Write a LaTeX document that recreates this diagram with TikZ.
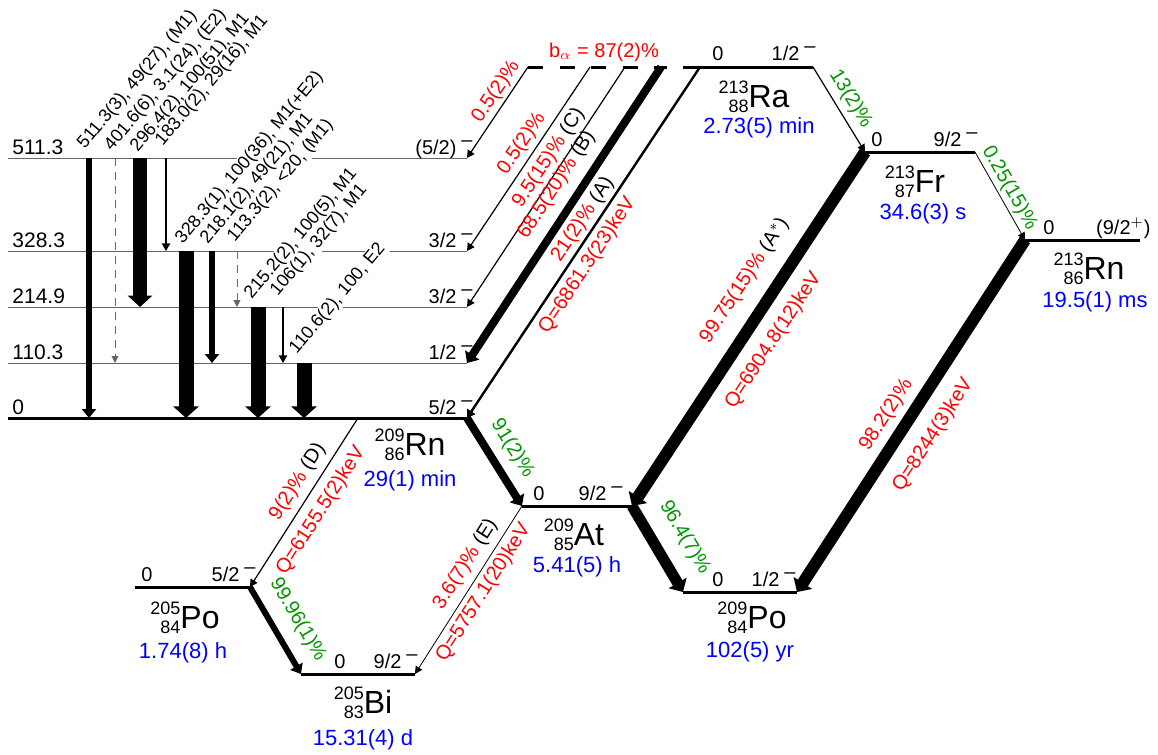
\documentclass[tikz,border=0pt]{standalone}
\usepackage{fontspec}
\setmainfont{Liberation Sans}
\usetikzlibrary{arrows.meta}
\definecolor{decgreen}{RGB}{0,150,0}
\newcommand{\nuc}[3]{\raisebox{-2.5pt}{\fontsize{9}{9.5}\selectfont\begin{tabular}[b]{@{}r@{}}#1\\#2\end{tabular}}\fontsize{16}{16}\selectfont #3}
\newcommand{\pmin}{\hspace{2.5pt}\raisebox{4pt}{–}}

\tikzset{
  lev/.style={line width=1.5pt},
  sublev/.style={line width=0.5pt, black!60},
  tr/.style={line width=#1, -{Triangle[width=3.25pt 1.25, length=3.6pt 0.3]}},
  gamd/.style={line width=0.5pt, black!60, dash pattern=on 4pt off 3pt, -{Triangle[width=3.5pt, length=3.5pt]}},
  glab/.style={rotate=50, anchor=south west, fill=white, inner sep=0.5pt, font=\fontsize{9}{11}\selectfont},
  lab/.style={sloped, inner sep=0pt, font=\fontsize{10}{12}\selectfont},
  elab/.style={anchor=base west, inner sep=0pt, font=\fontsize{10.5}{12}\selectfont},
  spin/.style={anchor=base east, inner sep=0pt, font=\fontsize{10}{12}\selectfont},
  zero/.style={anchor=base, inner sep=0pt, font=\fontsize{10}{12}\selectfont},
  nucl/.style={anchor=base, inner sep=0pt},
  thalf/.style={anchor=base, inner sep=0pt, blue, font=\fontsize{11}{13}\selectfont},
}

\begin{document}
\begin{tikzpicture}[x=0.5pt, y=-0.5pt]
\useasboundingbox (0,0) rectangle (1158,755);

% levels of 209Rn
\coordinate (e511) at (8,158); \coordinate (e511r) at (467,158);
\coordinate (e328) at (8,251); \coordinate (e328r) at (467,251);
\coordinate (e215) at (8,307); \coordinate (e215r) at (467,307);
\coordinate (e110) at (8,363); \coordinate (e110r) at (467,363);
\coordinate (e0) at (8,418);   \coordinate (e0r) at (467,418);
\coordinate (d1) at (358,418);
% ground states
\coordinate (a1) at (528,67); \coordinate (a2) at (590,67);
\coordinate (a3) at (625,67); \coordinate (a4) at (661,67);
\coordinate (Ra-de) at (667,67);
\coordinate (Ra-l) at (683,67); \coordinate (a5) at (700,67); \coordinate (Ra-r) at (813,67);
\coordinate (Fr-l) at (865,152); \coordinate (Fr-r) at (975,152);
\coordinate (Rn3-l) at (1025,240); \coordinate (Rn3-r) at (1140,240);
\coordinate (At-l) at (522,506); \coordinate (At-r) at (632,506);
\coordinate (Po9-l) at (683,592); \coordinate (Po9-r) at (797,592);
\coordinate (Po5-l) at (135,587); \coordinate (Po5-r) at (250,587);
\coordinate (Bi-l) at (301,674); \coordinate (Bi-r) at (415,674);

\foreach \lv in {e511,e328,e215,e110}
  \draw[sublev] (\lv) -- (\lv r);
\draw[lev] (e0) -- (e0r);
\draw[lev, dash pattern=on 7.5pt off 8.3pt] (a1) -- (Ra-de);
\draw[lev] (Ra-l) -- (Ra-r);
\draw[lev] (Fr-l) -- (Fr-r);
\draw[lev] (Rn3-l) -- (Rn3-r);
\draw[lev] (At-l) -- (At-r);
\draw[lev] (Po9-l) -- (Po9-r);
\draw[lev] (Po5-l) -- (Po5-r);
\draw[lev] (Bi-l) -- (Bi-r);

% gamma rays
\node[glab] (g1) at (88,154) {511.3(3), 49(27), (M1)};
\node[glab] (g2) at (115,156) {401.6(6), 3.1(24), (E2)};
\node[glab] (g3) at (141,157) {296.4(2), 100(51), M1};
\node[glab] (g4) at (166,151) {183.0(2), 29(16), M1};
\node[glab] (g5) at (186,249) {328.3(1), 100(36), M1(+E2)};
\node[glab] (g6) at (211,249) {218.1(2), 49(21), M1};
\node[glab] (g7) at (238,247) {113.3(2), <20, (M1)};
\node[glab] (g8) at (255,304) {215.2(2), 100(5), M1};
\node[glab] (g9) at (281,301) {106(1), 32(7), M1};
\node[glab] (g10) at (300,359) {110.6(2), 100, E2};

\foreach \x/\from/\to/\w in {89/e511/e0/3pt, 140/e511/e215/7pt, 166/e511/e328/0.7pt,
    186/e328/e0/7.5pt, 212/e328/e110/3pt, 258/e215/e0/7.5pt,
    283/e215/e110/0.7pt, 304/e110/e0/7.5pt}
  \draw[tr=\w] (\from -| \x,0) -- (\to -| \x,0);
\draw[gamd] (e511 -| 115,0) -- (e110 -| 115,0);
\draw[gamd] (e328 -| 237,0) -- (e215 -| 237,0);

% alpha and EC decays
\draw[tr=0.6pt] (a1) -- (e511r) node[lab, pos=0.35, above=1.4pt, red] (p1) {0.5(2)\%};
\draw[tr=0.6pt] (a2) -- (e328r) node[lab, pos=0.46, above=2.1pt, red] (p2) {0.5(2)\%};
\draw[tr=0.6pt] (a3) -- (e215r) node[lab, pos=0.41, above=1.9pt] (p3) {\textcolor{red}{9.5(15)\%} (C)};
\draw[tr=4pt] (a4) -- (e110r) node[lab, pos=0.44, above=4.7pt] (p4) {\textcolor{red}{68.5(20)\%} (B)};
\draw[tr=1.2pt] (a5) -- (e0r)
  node[lab, pos=0.455, above=1.5pt] (p5) {\textcolor{red}{21(2)\%} (A)}
  node[lab, pos=0.54, below=2.7pt, red] (q5) {Q=6861.3(23)keV};
\draw[tr=0.6pt] (Ra-r) -- (Fr-l) node[lab, pos=0.47, above=2.7pt, decgreen] (b1) {13(2)\%};
\draw[tr=0.4pt] (Fr-r) -- (Rn3-l) node[lab, pos=0.475, above=1.2pt, decgreen] (b2) {0.25(15)\%};
\draw[tr=6pt] (Fr-l) -- (At-r)
  node[lab, pos=0.41, above=7.2pt] (p6) {\textcolor{red}{99.75(15)\%} (A$^*$)}
  node[lab, pos=0.49, below=5.9pt, red] (q6) {Q=6904.8(12)keV};
\draw[tr=6pt] (Rn3-l) -- (Po9-r)
  node[lab, pos=0.53, above=3pt, red] (p7) {98.2(2)\%}
  node[lab, pos=0.51, below=6.8pt, red] (q7) {Q=8244(3)keV};
\draw[tr=4pt] (e0r) -- (At-l) node[lab, pos=0.48, above=4.5pt, decgreen] (b3) {91(2)\%};
\draw[tr=5.5pt] (At-r) -- (Po9-l) node[lab, pos=0.54, above=7.2pt, decgreen] (b4) {96.4(7)\%};
\draw[tr=0.6pt] (d1) -- (Po5-r)
  node[lab, pos=0.43, above=3.3pt] (p8) {\textcolor{red}{9(2)\%} (D)}
  node[lab, pos=0.49, below=4.5pt, red] (q8) {Q=6155.5(2)keV};
\draw[tr=3pt] (Po5-r) -- (Bi-l) node[lab, pos=0.52, above=6.1pt, decgreen] (b5) {99.96(1)\%};
\draw[tr=0.4pt] (At-l) -- (Bi-r)
  node[lab, pos=0.4, above=3.3pt] (p9) {\textcolor{red}{3.6(7)\%} (E)}
  node[lab, pos=0.47, below=2.2pt, red] (q9) {Q=5757.1(20)keV};

% energies and spins
\node[elab] (t511) at (12,154) {511.3};
\node[elab] (t328) at (12,247) {328.3};
\node[elab] (t215) at (12,303) {214.9};
\node[elab] (t110) at (12,359) {110.3};
\node[elab] (t0) at (12,414) {0};
\node[spin] (s511) at (473,154) {(5/2)\pmin};
\node[spin] (s328) at (473,247) {3/2\pmin};
\node[spin] (s215) at (473,303) {3/2\pmin};
\node[spin] (s110) at (473,359) {1/2\pmin};
\node[spin] (s0) at (473,414) {5/2\pmin};
\node[zero] (z-Ra) at (718,61) {0};   \node[spin] (s-Ra) at (816,61) {1/2\pmin};
\node[zero] (z-Fr) at (877,146) {0};  \node[spin] (s-Fr) at (978,146) {9/2\pmin};
\node[zero] (z-Rn3) at (1049,234) {0}; \node[spin] (s-Rn3) at (1151,234) {(9/2$^+$)};
\node[zero] (z-At) at (539,500) {0};  \node[spin] (s-At) at (623,500) {9/2\pmin};
\node[zero] (z-Po9) at (718,586) {0}; \node[spin] (s-Po9) at (796,586) {1/2\pmin};
\node[zero] (z-Po5) at (147,581) {0}; \node[spin] (s-Po5) at (256,581) {5/2\pmin};
\node[zero] (z-Bi) at (340,668) {0};  \node[spin] (s-Bi) at (418,668) {9/2\pmin};
\node[anchor=base, inner sep=0pt, red, font=\fontsize{10}{12}\selectfont] (balpha) at (604,57) {b$_\alpha$ = 87(2)\%};

% nuclides
\node[nucl] (Ra) at (754,107) {\nuc{213}{88}{Ra}};
\node[thalf] (Ra-t) at (759,133) {2.73(5) min};
\node[nucl] (Fr) at (915,192) {\nuc{213}{87}{Fr}};
\node[thalf] (Fr-t) at (923,219) {34.6(3) s};
\node[nucl] (Rn3) at (1089,279) {\nuc{213}{86}{Rn}};
\node[thalf] (Rn3-t) at (1095,307) {19.5(1) ms};
\node[nucl] (Rn9) at (410,455) {\nuc{209}{86}{Rn}};
\node[thalf] (Rn9-t) at (410,486) {29(1) min};
\node[nucl] (At) at (574,545) {\nuc{209}{85}{At}};
\node[thalf] (At-t) at (577,572) {5.41(5) h};
\node[nucl] (Po9) at (752,628) {\nuc{209}{84}{Po}};
\node[thalf] (Po9-t) at (750,657) {102(5) yr};
\node[nucl] (Po5) at (185,628) {\nuc{205}{84}{Po}};
\node[thalf] (Po5-t) at (183,658) {1.74(8) h};
\node[nucl] (Bi) at (363,713) {\nuc{205}{83}{Bi}};
\node[thalf] (Bi-t) at (363,745) {15.31(4) d};
\end{tikzpicture}
\end{document}
